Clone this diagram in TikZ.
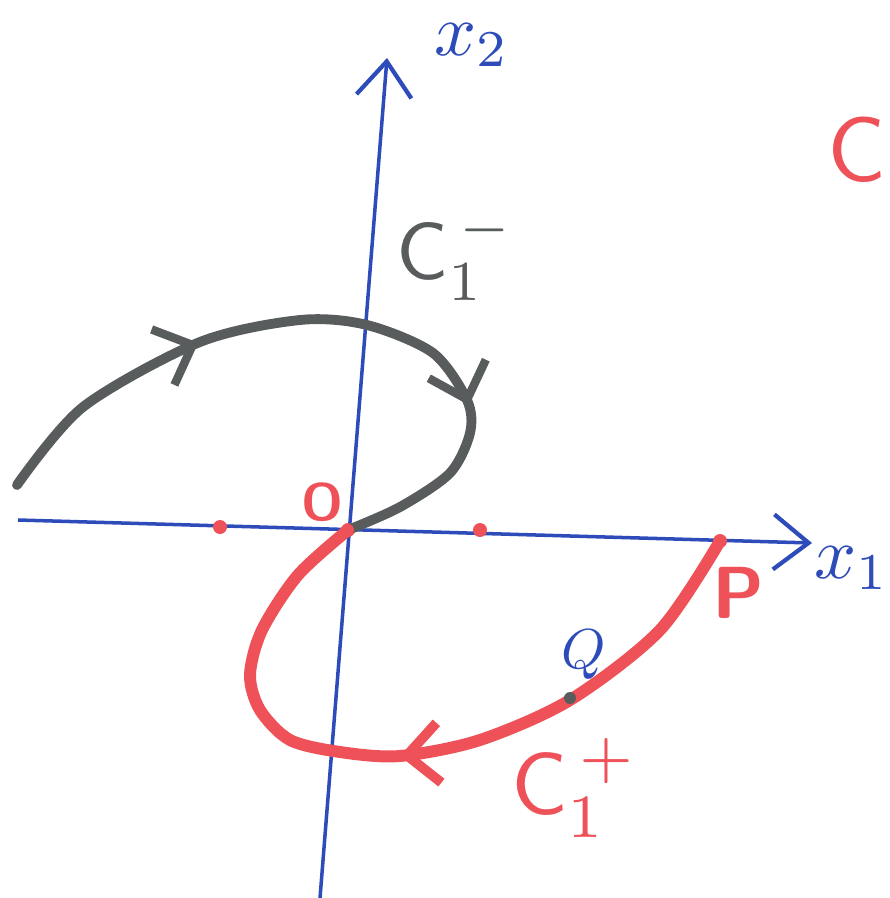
\documentclass[tikz,border=0pt]{standalone}
\usepackage{tikz}
\usetikzlibrary{arrows.meta,decorations.markings}
\definecolor{penblue}{RGB}{45,75,185}
\definecolor{penred}{RGB}{238,82,88}
\definecolor{pengray}{RGB}{88,92,92}

\begin{document}
\begin{tikzpicture}[x=1cm, y=1cm,
  axisline/.style={penblue, line width=1pt, -{Straight Barb[length=3.5mm, width=5.5mm, line width=1.2pt]}},
  graypath/.style={pengray, line width=2.8pt, line cap=round},
  redpath/.style={penred, line width=3.4pt, line cap=round},
  reddot/.style={circle, fill=penred, inner sep=0pt, minimum size=1.4mm},
  lbl/.style={inner sep=0pt, font=\sffamily}]
  \useasboundingbox (0,0) rectangle (8.89,-8.98);
  % axes
  \coordinate (x1start) at (0.18,-5.20);
  \coordinate (x1end) at (8.12,-5.43);
  \coordinate (x2start) at (3.20,-8.98);
  \coordinate (x2end) at (3.87,-0.58);
  \draw[axisline] (x1start) -- (x1end);
  \draw[axisline] (x2start) -- (x2end);
  \node[lbl, penblue, scale=2.1] (x2lab) at (4.72,-0.45) {$x_2$};
  \node[lbl, penblue, scale=2.1] (x1lab) at (8.52,-5.68) {$x_1$};
  % points on the x1 axis
  \node[reddot] (left) at (2.20,-5.27) {};
  \node[reddot] (right) at (4.80,-5.30) {};
  \node[reddot] (O) at (3.48,-5.30) {};
  \node[reddot] (P) at (7.20,-5.41) {};
  \node[lbl, penred, scale=1.5, font=\sffamily\bfseries] (Olab) at (3.22,-5.02) {O};
  \node[lbl, penred, scale=2.1, font=\sffamily\bfseries] (Plab) at (7.38,-5.93) {P};
  % C_1^- (gray)
  \draw[graypath, postaction={decorate}, decoration={markings,
      mark=at position 0.32 with {\arrow[pengray, line width=2.4pt]{Straight Barb[length=3.2mm, width=6mm]}},
      mark=at position 0.74 with {\arrow[pengray, line width=2.4pt]{Straight Barb[length=3.2mm, width=6mm]}}}]
    plot[smooth] coordinates {(0.17,-4.85) (0.83,-4.07) (2.00,-3.42) (3.00,-3.20) (3.67,-3.25)
      (4.33,-3.53) (4.67,-4.00) (4.70,-4.33) (4.50,-4.73) (4.00,-5.07) (O)};
  \node[lbl, pengray, scale=2.3] (cminus) at (4.55,-2.55) {$\mathsf{C}_1^{\,-}$};
  % C_1^+ (red)
  \draw[redpath, postaction={decorate}, decoration={markings,
      mark=at position 0.52 with {\arrow[penred, line width=2.8pt]{Straight Barb[length=3.2mm, width=6mm]}}}]
    plot[smooth] coordinates {(P) (6.60,-6.30) (5.70,-7.00) (4.80,-7.40) (4.00,-7.56)
      (3.40,-7.52) (2.90,-7.40) (2.60,-7.10) (2.50,-6.75) (2.62,-6.30) (2.98,-5.75) (O)};
  \node[circle, fill=pengray, inner sep=0pt, minimum size=1.2mm] (Q) at (5.70,-6.98) {};
  \node[lbl, penblue, scale=1.6] (Qlab) at (5.84,-6.55) {$Q$};
  \node[lbl, penred, scale=2.5] (cplus) at (5.75,-7.88) {$\mathsf{C}_1^{\,+}$};
  % region label
  \node[lbl, penred, scale=2.6] (C) at (8.57,-1.50) {C};
\end{tikzpicture}
\end{document}
